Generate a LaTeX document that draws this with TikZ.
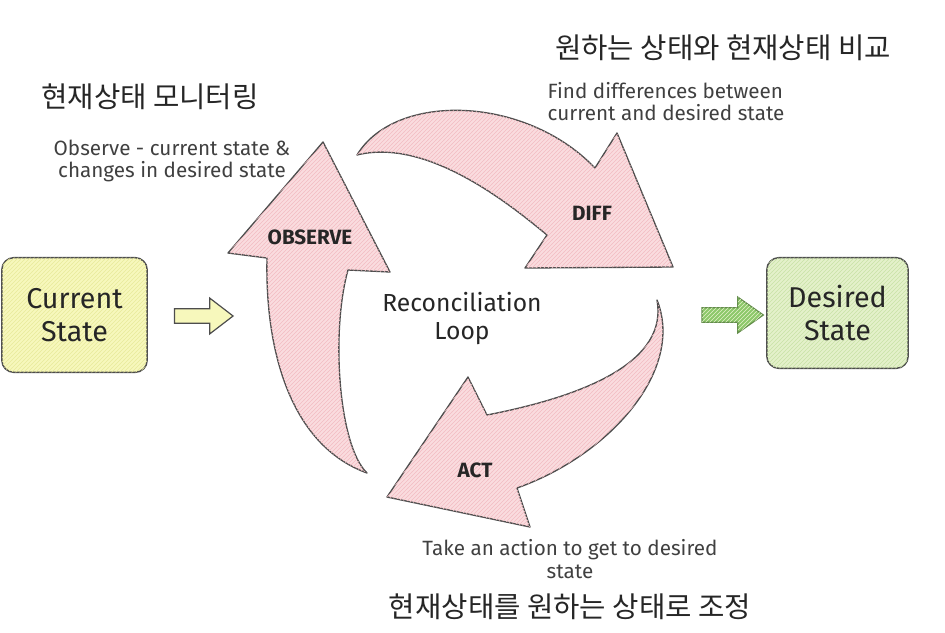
\documentclass[tikz,border=0pt]{standalone}
\usepackage{fontspec}
\setmainfont{Fira Sans}
\newfontfamily\krfont{Noto Sans CJK KR}
\usetikzlibrary{shapes.arrows,patterns,positioning}

\definecolor{loopPink}{HTML}{FADCDF}
\definecolor{loopHatch}{HTML}{F2BCC2}
\definecolor{curYellow}{HTML}{F7F8BC}
\definecolor{curHatch}{HTML}{E8EA9A}
\definecolor{desGreen}{HTML}{E4F1CA}
\definecolor{desHatch}{HTML}{C8E2A6}
\definecolor{outGreen}{HTML}{8CC86A}
\definecolor{inkGray}{HTML}{4D4D4D}

\begin{document}
\begin{tikzpicture}[
    x=0.75pt, y=-0.75pt,
    statebox/.style={draw=inkGray, line width=1.1pt, rounded corners=9pt, align=center,
        font=\fontsize{21.5}{25}\selectfont, text=black!85},
    looparrow/.style={draw=inkGray, line width=1pt, line join=round, fill=loopPink,
        postaction={pattern=north east lines, pattern color=loopHatch}},
    blockarrow/.style={single arrow, draw=inkGray, line width=0.9pt, inner sep=0pt,
        text width=0pt},
    steplabel/.style={font=\bfseries\fontsize{15.5}{18}\selectfont, text=black!85},
    desc/.style={font=\fontsize{15.5}{17}\selectfont, text=black!75, align=center},
    krtitle/.style={font=\krfont\fontsize{21.5}{25}\selectfont, text=black!85}
]
\useasboundingbox (0,0) rectangle (945,632);

% state boxes
\node[statebox, fill=curYellow, minimum width=109pt, minimum height=86pt,
      postaction={pattern=north east lines, pattern color=curHatch}]
      (current) at (74.5,315) {Current\\State};
\node[statebox, fill=desGreen, minimum width=106pt, minimum height=83pt,
      postaction={pattern=north east lines, pattern color=desHatch}]
      (desired) at (837.5,313) {Desired\\State};

% in and out
\node[blockarrow, fill=curYellow, minimum height=44pt, minimum width=26pt,
      inner ysep=5pt, single arrow head extend=8pt, single arrow tip angle=75]
      (inArrow) at (199,316) {};
\node[blockarrow, draw=outGreen!70!black, fill=outGreen, minimum height=46pt, minimum width=26pt,
      inner ysep=5pt, single arrow head extend=8pt, single arrow tip angle=70,
      postaction={pattern=north east lines, pattern color=desGreen}]
      (outArrow) at (727.5,315) {};

% the loop
\path[looparrow] (367,473) .. controls (338,445) and (331,330) .. (348,270)
    -- (390,272) -- (323,142) -- (228,253) -- (267,258)
    .. controls (265,350) and (290,445) .. (367,473) -- cycle;
\path[looparrow] (357,155) .. controls (395,92) and (525,95) .. (595,168)
    -- (617,133) -- (673,267) -- (525,268) -- (547,235)
    .. controls (505,200) and (425,138) .. (357,155) -- cycle;
\path[looparrow] (657,300) .. controls (668,360) and (590,395) .. (487,415)
    -- (468,377) -- (387,497) -- (530,527) -- (517,488)
    .. controls (610,455) and (685,370) .. (657,300) -- cycle;

\node[steplabel] (observe) at (310,237) {OBSERVE};
\node[steplabel] (diff) at (592,213) {DIFF};
\node[steplabel] (act) at (475,470) {ACT};
\node[align=center, font=\fontsize{18.5}{21}\selectfont, text=black!85]
      (loop) at (462,319) {Reconciliation\\Loop};

% descriptions
\node[desc] (observeTxt) at (172,161) {Observe - current state \&\\changes in desired state};
\node[desc, align=left, anchor=west] (diffTxt) at (543,101.5) {Find differences between\\current and desired state};
\node[desc] (actTxt) at (570,559) {Take an action to get to desired\\state};

\node[krtitle] (observeKr) at (150,97) {현재상태 모니터링};
\node[krtitle] (diffKr) at (723,48) {원하는 상태와 현재상태 비교};
\node[krtitle] (actKr) at (570,607) {현재상태를 원하는 상태로 조정};
\end{tikzpicture}
\end{document}
